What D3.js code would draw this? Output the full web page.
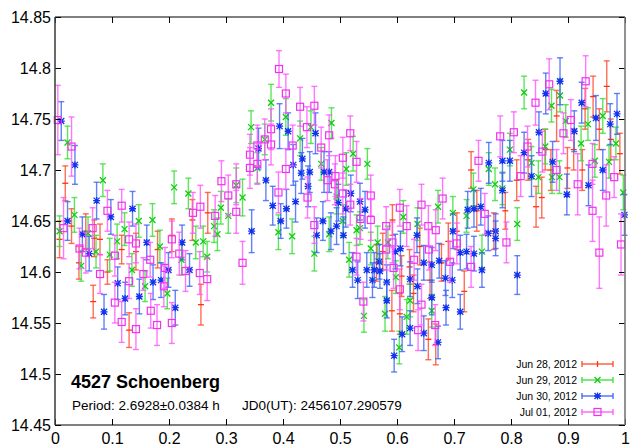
<!DOCTYPE html>
<html>
<head>
<meta charset="utf-8">
<script src="https://cdn.jsdelivr.net/npm/d3@7/dist/d3.min.js"></script>
<style>
  html, body { margin: 0; padding: 0; background: #fff; }
  svg { display: block; font-family: Arial, "Liberation Sans", sans-serif; }
</style>
</head>
<body>
<svg id="chart" width="635" height="447"></svg>
<script>
// Lightcurve of 4527 Schoenberg folded on the rotation period.
// Each observation: [phase, magnitude, 1-sigma error]
const jun28 = [[0.008,14.632,0.018],[0.018,14.687,0.017],[0.029,14.645,0.017],[0.042,14.609,0.016],[0.054,14.640,0.017],[0.067,14.571,0.016],[0.069,14.633,0.018],[0.079,14.632,0.015],[0.092,14.600,0.012],[0.117,14.622,0.014],[0.130,14.543,0.017],[0.142,14.620,0.018],[0.180,14.622,0.018],[0.205,14.636,0.016],[0.241,14.651,0.020],[0.256,14.568,0.020],[0.268,14.658,0.020],[0.564,14.609,0.018],[0.575,14.620,0.018],[0.591,14.562,0.020],[0.592,14.651,0.015],[0.605,14.559,0.020],[0.608,14.596,0.020],[0.622,14.605,0.017],[0.629,14.579,0.018],[0.640,14.625,0.018],[0.655,14.534,0.020],[0.658,14.592,0.018],[0.668,14.529,0.020],[0.678,14.609,0.018],[0.690,14.630,0.018],[0.705,14.640,0.018],[0.718,14.581,0.020],[0.730,14.700,0.018],[0.740,14.660,0.020],[0.770,14.640,0.018],[0.790,14.660,0.018],[0.810,14.690,0.020],[0.830,14.710,0.020],[0.844,14.664,0.020],[0.854,14.673,0.020],[0.860,14.720,0.020],[0.870,14.700,0.020],[0.880,14.753,0.025],[0.899,14.702,0.020],[0.910,14.720,0.020],[0.925,14.700,0.020],[0.930,14.760,0.020],[0.944,14.772,0.020],[0.955,14.740,0.020],[0.968,14.782,0.025],[0.975,14.730,0.020],[0.991,14.716,0.020]];

const jun29 = [[0.008,14.640,0.015],[0.022,14.727,0.016],[0.034,14.656,0.017],[0.046,14.606,0.015],[0.058,14.638,0.016],[0.072,14.620,0.016],[0.084,14.690,0.016],[0.096,14.617,0.016],[0.109,14.630,0.017],[0.122,14.642,0.016],[0.135,14.602,0.016],[0.147,14.650,0.016],[0.158,14.586,0.015],[0.171,14.651,0.016],[0.184,14.625,0.016],[0.197,14.579,0.015],[0.209,14.683,0.016],[0.222,14.612,0.015],[0.234,14.677,0.015],[0.247,14.629,0.016],[0.260,14.630,0.015],[0.267,14.615,0.015],[0.279,14.645,0.016],[0.285,14.637,0.016],[0.291,14.663,0.016],[0.304,14.655,0.017],[0.318,14.685,0.017],[0.329,14.673,0.018],[0.344,14.742,0.016],[0.355,14.702,0.015],[0.368,14.730,0.015],[0.379,14.766,0.018],[0.392,14.639,0.017],[0.405,14.752,0.018],[0.416,14.635,0.017],[0.430,14.731,0.017],[0.449,14.742,0.016],[0.455,14.618,0.017],[0.467,14.706,0.016],[0.481,14.637,0.017],[0.485,14.746,0.015],[0.494,14.674,0.017],[0.505,14.650,0.016],[0.511,14.701,0.016],[0.516,14.612,0.017],[0.523,14.716,0.017],[0.529,14.641,0.015],[0.535,14.643,0.016],[0.542,14.557,0.016],[0.548,14.706,0.015],[0.554,14.623,0.016],[0.566,14.629,0.016],[0.579,14.559,0.017],[0.584,14.629,0.016],[0.598,14.595,0.016],[0.604,14.526,0.016],[0.611,14.654,0.016],[0.617,14.556,0.017],[0.623,14.572,0.016],[0.636,14.647,0.016],[0.661,14.562,0.016],[0.672,14.664,0.016],[0.698,14.658,0.016],[0.722,14.655,0.016],[0.734,14.681,0.016],[0.749,14.620,0.016],[0.761,14.701,0.016],[0.772,14.686,0.016],[0.785,14.682,0.016],[0.798,14.720,0.016],[0.811,14.647,0.016],[0.823,14.776,0.016],[0.836,14.707,0.016],[0.848,14.693,0.016],[0.860,14.723,0.017],[0.871,14.763,0.016],[0.872,14.693,0.016],[0.885,14.693,0.016],[0.886,14.773,0.016],[0.896,14.748,0.016],[0.923,14.726,0.017],[0.935,14.745,0.016],[0.947,14.709,0.016],[0.961,14.753,0.017],[0.972,14.708,0.016],[0.984,14.726,0.016],[0.997,14.678,0.017]];

const jun30 = [[0.011,14.748,0.019],[0.022,14.650,0.019],[0.035,14.705,0.019],[0.048,14.637,0.017],[0.060,14.618,0.017],[0.073,14.670,0.018],[0.086,14.561,0.017],[0.098,14.654,0.017],[0.110,14.589,0.016],[0.123,14.574,0.016],[0.136,14.662,0.017],[0.148,14.576,0.017],[0.161,14.629,0.017],[0.172,14.590,0.017],[0.186,14.592,0.017],[0.199,14.602,0.017],[0.211,14.565,0.017],[0.223,14.629,0.017],[0.236,14.602,0.016],[0.345,14.640,0.021],[0.357,14.721,0.020],[0.370,14.690,0.020],[0.382,14.665,0.019],[0.394,14.743,0.022],[0.396,14.650,0.017],[0.406,14.662,0.019],[0.409,14.738,0.018],[0.418,14.705,0.020],[0.422,14.669,0.020],[0.432,14.697,0.020],[0.434,14.711,0.020],[0.444,14.684,0.020],[0.447,14.698,0.020],[0.457,14.736,0.020],[0.459,14.636,0.017],[0.470,14.650,0.019],[0.472,14.698,0.020],[0.481,14.698,0.020],[0.484,14.640,0.018],[0.494,14.645,0.018],[0.497,14.668,0.018],[0.506,14.636,0.018],[0.510,14.662,0.018],[0.519,14.677,0.018],[0.522,14.602,0.017],[0.531,14.592,0.018],[0.535,14.669,0.018],[0.544,14.661,0.018],[0.547,14.602,0.017],[0.557,14.592,0.017],[0.560,14.602,0.017],[0.569,14.610,0.017],[0.570,14.601,0.017],[0.582,14.590,0.017],[0.582,14.572,0.017],[0.595,14.518,0.016],[0.597,14.620,0.017],[0.606,14.623,0.017],[0.609,14.539,0.017],[0.623,14.545,0.017],[0.623,14.593,0.017],[0.635,14.636,0.017],[0.636,14.586,0.017],[0.647,14.609,0.017],[0.647,14.540,0.017],[0.661,14.607,0.017],[0.661,14.575,0.017],[0.672,14.531,0.016],[0.674,14.611,0.017],[0.685,14.594,0.017],[0.686,14.565,0.017],[0.697,14.592,0.017],[0.698,14.640,0.017],[0.711,14.561,0.017],[0.711,14.619,0.017],[0.722,14.620,0.017],[0.724,14.661,0.018],[0.735,14.662,0.018],[0.735,14.618,0.017],[0.747,14.664,0.018],[0.749,14.602,0.017],[0.760,14.638,0.017],[0.761,14.707,0.020],[0.773,14.640,0.017],[0.773,14.633,0.017],[0.785,14.709,0.020],[0.785,14.680,0.017],[0.798,14.709,0.020],[0.811,14.597,0.019],[0.823,14.717,0.020],[0.836,14.694,0.020],[0.849,14.737,0.020],[0.861,14.775,0.020],[0.873,14.708,0.020],[0.886,14.787,0.023],[0.898,14.676,0.020],[0.911,14.738,0.020],[0.924,14.766,0.020],[0.936,14.685,0.020],[0.949,14.751,0.022],[0.961,14.700,0.020],[0.974,14.745,0.020],[0.986,14.755,0.020],[0.999,14.656,0.020]];

const jul01 = [[0.005,14.749,0.034],[0.015,14.643,0.030],[0.029,14.723,0.029],[0.043,14.623,0.020],[0.054,14.619,0.020],[0.066,14.643,0.020],[0.079,14.598,0.019],[0.092,14.660,0.020],[0.105,14.616,0.020],[0.105,14.570,0.020],[0.117,14.665,0.016],[0.117,14.551,0.020],[0.130,14.632,0.017],[0.130,14.591,0.017],[0.142,14.628,0.019],[0.142,14.544,0.020],[0.155,14.598,0.016],[0.167,14.612,0.017],[0.168,14.562,0.017],[0.179,14.548,0.020],[0.191,14.586,0.020],[0.193,14.604,0.020],[0.205,14.632,0.018],[0.205,14.550,0.020],[0.218,14.618,0.021],[0.229,14.601,0.020],[0.242,14.658,0.020],[0.254,14.599,0.021],[0.255,14.664,0.021],[0.267,14.593,0.021],[0.281,14.655,0.020],[0.292,14.689,0.020],[0.304,14.675,0.020],[0.318,14.686,0.020],[0.318,14.659,0.021],[0.329,14.609,0.021],[0.342,14.715,0.020],[0.342,14.702,0.020],[0.355,14.724,0.020],[0.355,14.706,0.020],[0.368,14.730,0.020],[0.379,14.740,0.020],[0.379,14.725,0.020],[0.392,14.678,0.020],[0.393,14.799,0.018],[0.405,14.775,0.019],[0.405,14.701,0.020],[0.417,14.724,0.020],[0.430,14.762,0.019],[0.442,14.742,0.020],[0.443,14.673,0.020],[0.455,14.763,0.019],[0.455,14.646,0.018],[0.467,14.722,0.020],[0.478,14.690,0.020],[0.481,14.734,0.020],[0.491,14.686,0.020],[0.492,14.694,0.020],[0.505,14.712,0.020],[0.505,14.677,0.020],[0.518,14.736,0.017],[0.518,14.666,0.020],[0.529,14.708,0.020],[0.529,14.615,0.018],[0.536,14.652,0.020],[0.541,14.571,0.019],[0.554,14.675,0.020],[0.554,14.651,0.020],[0.581,14.645,0.019],[0.581,14.622,0.020],[0.592,14.629,0.020],[0.594,14.604,0.020],[0.605,14.663,0.018],[0.605,14.583,0.020],[0.617,14.645,0.020],[0.630,14.612,0.020],[0.637,14.543,0.020],[0.643,14.666,0.020],[0.643,14.568,0.020],[0.655,14.645,0.020],[0.656,14.622,0.020],[0.667,14.548,0.020],[0.668,14.641,0.020],[0.680,14.672,0.020],[0.693,14.610,0.020],[0.705,14.628,0.020],[0.730,14.605,0.020],[0.743,14.709,0.020],[0.754,14.657,0.020],[0.781,14.733,0.020],[0.792,14.629,0.020],[0.805,14.737,0.020],[0.817,14.694,0.020],[0.829,14.723,0.020],[0.843,14.766,0.022],[0.855,14.718,0.020],[0.867,14.784,0.025],[0.880,14.700,0.020],[0.892,14.736,0.020],[0.905,14.749,0.020],[0.917,14.686,0.030],[0.931,14.787,0.025],[0.943,14.706,0.020],[0.943,14.660,0.030],[0.955,14.619,0.035],[0.967,14.675,0.030],[0.981,14.693,0.020],[0.993,14.627,0.030]];

const sessionLabels = ["Jun 28, 2012", "Jun 29, 2012", "Jun 30, 2012", "Jul 01, 2012"];
const xTicks = [0, 0.1, 0.2, 0.3, 0.4, 0.5, 0.6, 0.7, 0.8, 0.9, 1];
const yTicks = [14.45, 14.5, 14.55, 14.6, 14.65, 14.7, 14.75, 14.8, 14.85];
const objectName = "4527 Schoenberg";
const periodText = "Period: 2.6928\u00b10.0384 h";
const epochText = "JD0(UT): 2456107.290579";

const sessions = [
  { label: sessionLabels[0], data: jun28, bar: "#ff4a2a", mark: "#ff3311", shape: "plus" },
  { label: sessionLabels[1], data: jun29, bar: "#33e033", mark: "#11cc11", shape: "cross" },
  { label: sessionLabels[2], data: jun30, bar: "#3b63f5", mark: "#1133ee", shape: "star" },
  { label: sessionLabels[3], data: jul01, bar: "#ff55ff", mark: "#ee33ee", shape: "square" }
];

const svg = d3.select("#chart");
const frame = { left: 55, right: 625, top: 17, bottom: 425 };

const x = d3.scaleLinear().domain([0, 1]).range([frame.left, frame.right]);
const y = d3.scaleLinear().domain([14.45, 14.85]).range([frame.bottom, frame.top]);

// error bar with caps
function errBar(g, cx, cy0, cy1, color) {
  g.append("line").attr("x1", cx).attr("x2", cx).attr("y1", cy0).attr("y2", cy1)
    .attr("stroke", color).attr("stroke-width", 1.4).attr("stroke-opacity", 0.8);
  [cy0, cy1].forEach(v => g.append("line").attr("x1", cx - 3).attr("x2", cx + 3)
    .attr("y1", v).attr("y2", v).attr("stroke", color).attr("stroke-width", 1.4).attr("stroke-opacity", 0.8));
}

function marker(g, cx, cy, s) {
  const c = s.mark;
  if (s.shape === "plus") {
    g.append("line").attr("x1", cx - 3).attr("x2", cx + 3).attr("y1", cy).attr("y2", cy)
      .attr("stroke", c).attr("stroke-width", 1.3);
  } else if (s.shape === "cross") {
    g.append("path").attr("d", `M${cx-3},${cy-3}L${cx+3},${cy+3}M${cx-3},${cy+3}L${cx+3},${cy-3}`)
      .attr("stroke", c).attr("stroke-width", 1.3).attr("fill", "none");
  } else if (s.shape === "star") {
    g.append("path").attr("d", `M${cx-3},${cy-3}L${cx+3},${cy+3}M${cx-3},${cy+3}L${cx+3},${cy-3}M${cx-3.5},${cy}L${cx+3.5},${cy}M${cx},${cy-3.5}L${cx},${cy+3.5}`)
      .attr("stroke", c).attr("stroke-width", 1.3).attr("fill", "none");
  } else {
    g.append("rect").attr("x", cx - 3.5).attr("y", cy - 3.5).attr("width", 7).attr("height", 7)
      .attr("fill", "none").attr("stroke", c).attr("stroke-width", 1.2);
  }
}

const plot = svg.append("g");
sessions.forEach(s => {
  const g = plot.append("g");
  s.data.forEach(([p, m, e]) => {
    errBar(g, x(p), y(m + e), y(m - e), s.bar);
    marker(g, x(p), y(m), s);
  });
});

// axes with inward ticks on all four sides
const fmt = d3.format("~g");
const axisStyle = g => {
  g.selectAll("text").attr("font-size", 16).attr("fill", "#000").attr("font-family", "Arial, 'Liberation Sans', sans-serif");
  g.selectAll(".tick line").attr("stroke", "#000");
  g.select(".domain").remove();
};
svg.append("g").attr("transform", `translate(0,${frame.bottom})`)
  .call(d3.axisBottom(x).tickValues(xTicks).tickFormat(fmt).tickSize(-6).tickPadding(8)).call(axisStyle);
svg.append("g").attr("transform", `translate(${frame.left},0)`)
  .call(d3.axisLeft(y).tickValues(yTicks).tickFormat(fmt).tickSize(-6).tickPadding(4)).call(axisStyle);
svg.append("g").attr("transform", `translate(0,${frame.top})`)
  .call(d3.axisTop(x).tickValues(xTicks).tickFormat("").tickSize(-6)).call(axisStyle);
svg.append("g").attr("transform", `translate(${frame.right},0)`)
  .call(d3.axisRight(y).tickValues(yTicks).tickFormat("").tickSize(-6)).call(axisStyle);

// frame
svg.append("line").attr("x1", frame.left).attr("x2", frame.right).attr("y1", frame.top).attr("y2", frame.top).attr("stroke", "#000");
svg.append("line").attr("x1", frame.left).attr("x2", frame.right).attr("y1", frame.bottom).attr("y2", frame.bottom).attr("stroke", "#000");
svg.append("line").attr("x1", frame.left).attr("x2", frame.left).attr("y1", frame.top).attr("y2", frame.bottom).attr("stroke", "#444").attr("stroke-width", 1.6);
svg.append("line").attr("x1", frame.right).attr("x2", frame.right).attr("y1", frame.top).attr("y2", frame.bottom).attr("stroke", "#777").attr("stroke-width", 1.6);

// title block
svg.append("text").attr("x", 71).attr("y", 388).attr("font-size", 18).attr("font-weight", "bold")
  .attr("fill", "#000").text(objectName);
svg.append("text").attr("x", 72).attr("y", 410).attr("font-size", 13.5).attr("fill", "#000").text(periodText);
svg.append("text").attr("x", 242).attr("y", 410).attr("font-size", 13.5).attr("fill", "#000").text(epochText);

// legend
const legend = svg.append("g");
sessions.forEach((s, i) => {
  const ly = 364 + i * 16;
  legend.append("text").attr("x", 577).attr("y", ly + 4).attr("text-anchor", "end")
    .attr("font-size", 10.5).attr("fill", "#000").text(s.label);
  legend.append("line").attr("x1", 582).attr("x2", 613).attr("y1", ly).attr("y2", ly)
    .attr("stroke", s.bar).attr("stroke-width", 1.3);
  [582, 613].forEach(v => legend.append("line").attr("x1", v).attr("x2", v)
    .attr("y1", ly - 3).attr("y2", ly + 3).attr("stroke", s.bar).attr("stroke-width", 1.3));
  if (s.shape === "plus") {
    legend.append("line").attr("x1", 597.5).attr("x2", 597.5).attr("y1", ly - 3).attr("y2", ly + 3)
      .attr("stroke", s.mark).attr("stroke-width", 1.3);
  } else {
    marker(legend, 597.5, ly, s);
  }
});
</script>
</body>
</html>
